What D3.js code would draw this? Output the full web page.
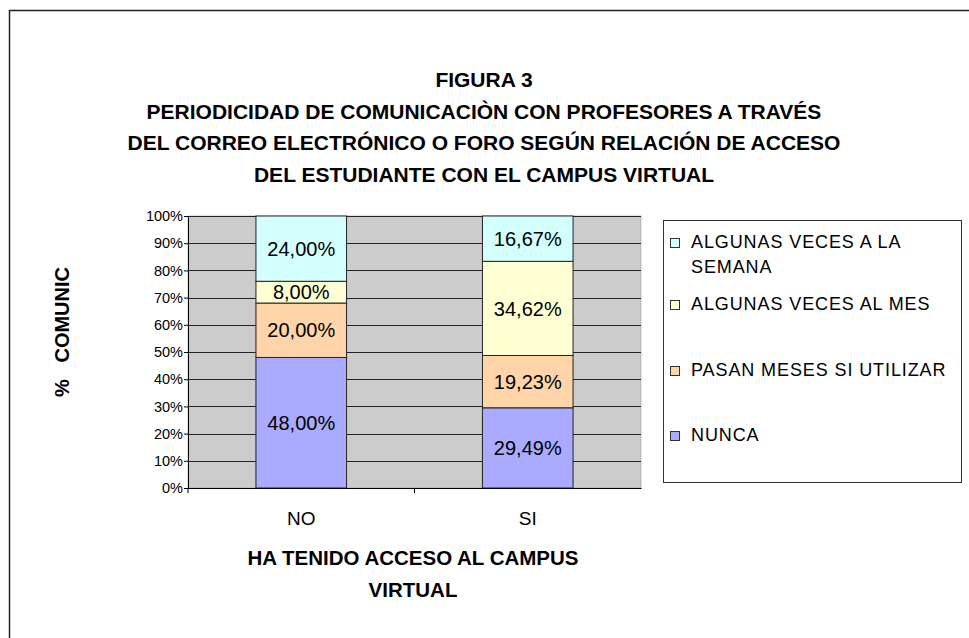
<!DOCTYPE html>
<meta charset="utf-8">
<style>
body { margin: 0; background: #fff; }
text { font-family: "Liberation Sans", Arial, sans-serif; }
</style>
<svg width="969" height="638"></svg>
<script src="https://d3js.org/d3.v7.min.js"></script>
<script>
var categories = ["NO", "SI"];
var seriesNames = ["NUNCA", "PASAN MESES SI UTILIZAR", "ALGUNAS VECES AL MES", "ALGUNAS VECES A LA SEMANA"];
var nunca = [48.00, 29.49];
var pasanMeses = [20.00, 19.23];
var vecesMes = [8.00, 34.62];
var vecesSemana = [24.00, 16.67];
var colors = ["#aaaaff", "#ffd4a8", "#ffffd4", "#d4ffff"];
var yTicks = [0, 10, 20, 30, 40, 50, 60, 70, 80, 90, 100];
var titleLines = ["FIGURA 3",
  "PERIODICIDAD DE COMUNICACIÒN CON PROFESORES A TRAVÉS",
  "DEL CORREO ELECTRÓNICO O FORO SEGÚN RELACIÓN DE ACCESO",
  "DEL ESTUDIANTE CON EL CAMPUS VIRTUAL"];

var svg = d3.select("svg");

// outer chart frame
svg.append("rect")
  .attr("x", 9.5).attr("y", 10.5)
  .attr("width", 1000).attr("height", 700)
  .attr("fill", "none").attr("stroke", "#222").attr("stroke-width", 1.5);

var plot = {left: 188, right: 641, top: 216, bottom: 488};

var x = d3.scaleBand().domain(categories)
  .range([plot.left, plot.right]).paddingInner(0.6).paddingOuter(0.3);
var xGroup = d3.scaleBand().domain(categories).range([plot.left, plot.right]);
var y = d3.scaleLinear().domain([0, 100]).range([plot.bottom, plot.top]);

// plot background
svg.append("rect")
  .attr("x", plot.left).attr("y", plot.top)
  .attr("width", plot.right - plot.left).attr("height", plot.bottom - plot.top)
  .attr("fill", "#cccccc").attr("stroke", "#888").attr("stroke-width", 0.5);

// grid lines
svg.append("g").selectAll("line")
  .data(yTicks.filter(function(d) { return d > 0; }))
  .enter().append("line")
  .attr("x1", plot.left).attr("x2", plot.right)
  .attr("y1", function(d) { return Math.round(y(d)) + 0.5; })
  .attr("y2", function(d) { return Math.round(y(d)) + 0.5; })
  .attr("stroke", "#222").attr("stroke-width", 1);

// stacked data
var rows = categories.map(function(c, i) {
  return {cat: c, s0: nunca[i], s1: pasanMeses[i], s2: vecesMes[i], s3: vecesSemana[i]};
});
var stack = d3.stack().keys(["s0", "s1", "s2", "s3"])(rows);

var layers = svg.append("g").selectAll("g")
  .data(stack).enter().append("g")
  .attr("fill", function(d, i) { return colors[i]; });

layers.selectAll("rect")
  .data(function(d) { return d; })
  .enter().append("rect")
  .attr("x", function(d) { return x(d.data.cat); })
  .attr("width", x.bandwidth())
  .attr("y", function(d) { return y(d[1]); })
  .attr("height", function(d) { return y(d[0]) - y(d[1]); })
  .attr("stroke", "#222").attr("stroke-width", 1);

layers.selectAll("text")
  .data(function(d) { return d; })
  .enter().append("text")
  .attr("x", function(d) { return x(d.data.cat) + x.bandwidth() / 2; })
  .attr("y", function(d) { return (y(d[0]) + y(d[1])) / 2; })
  .attr("dy", "0.36em")
  .attr("text-anchor", "middle")
  .attr("fill", "#000")
  .style("font-size", "20px")
  .text(function(d) { return (d[1] - d[0]).toFixed(2).replace(".", ",") + "%"; });

// y axis
var yAxis = d3.axisLeft(y).tickValues(yTicks).tickSize(4).tickPadding(1)
  .tickFormat(function(d) { return d + "%"; });
var ya = svg.append("g").attr("transform", "translate(" + plot.left + ",0)").call(yAxis);
ya.select(".domain").attr("stroke", "#000");
ya.selectAll("text").style("font-size", "14.5px").attr("fill", "#000");

// x axis
var xAxis = d3.axisBottom(xGroup).tickSize(0).tickPadding(24);
var xa = svg.append("g").attr("transform", "translate(0," + plot.bottom + ")").call(xAxis);
xa.select(".domain").attr("stroke", "#000");
xa.selectAll("text").style("font-size", "19px").attr("fill", "#000");
xa.append("line").attr("x1", plot.left + xGroup.bandwidth()).attr("x2", plot.left + xGroup.bandwidth())
  .attr("y1", 0).attr("y2", 5).attr("stroke", "#000");
xa.append("line").attr("x1", plot.left).attr("x2", plot.left)
  .attr("y1", 0).attr("y2", 5).attr("stroke", "#000");

// titles
svg.append("g").selectAll("text")
  .data(titleLines).enter().append("text")
  .attr("x", 484)
  .attr("y", function(d, i) { return 87 + i * 31.5; })
  .attr("text-anchor", "middle")
  .style("font-size", "21px").style("font-weight", "bold")
  .text(function(d) { return d; });

svg.append("text")
  .attr("transform", "translate(69,332) rotate(-90)")
  .attr("text-anchor", "middle")
  .style("font-size", "20px").style("font-weight", "bold")
  .attr("xml:space", "preserve")
  .text("%   COMUNIC");

svg.append("g").selectAll("text")
  .data(["HA TENIDO ACCESO AL CAMPUS", "VIRTUAL"]).enter().append("text")
  .attr("x", 413)
  .attr("y", function(d, i) { return 565 + i * 32; })
  .attr("text-anchor", "middle")
  .style("font-size", "20.5px").style("font-weight", "bold")
  .text(function(d) { return d; });

// legend
var lg = svg.append("g");
lg.append("rect").attr("x", 663.5).attr("y", 220.5).attr("width", 298).attr("height", 262)
  .attr("fill", "#fff").attr("stroke", "#333");
var legendItems = [
  {name: seriesNames[3], lines: ["ALGUNAS VECES A LA", "SEMANA"], color: colors[3], y: 242},
  {name: seriesNames[2], lines: ["ALGUNAS VECES AL MES"], color: colors[2], y: 304},
  {name: seriesNames[1], lines: ["PASAN MESES SI UTILIZAR"], color: colors[1], y: 370},
  {name: seriesNames[0], lines: ["NUNCA"], color: colors[0], y: 435}
];
var li = lg.selectAll("g.item").data(legendItems).enter().append("g").attr("class", "item");
li.append("rect")
  .attr("x", 670.5).attr("y", function(d) { return d.y - 3.5; })
  .attr("width", 9).attr("height", 9)
  .attr("fill", function(d) { return d.color; }).attr("stroke", "#333");
li.each(function(d) {
  var g = d3.select(this);
  d.lines.forEach(function(t, k) {
    g.append("text").attr("x", 691).attr("y", d.y + k * 25)
      .attr("dy", "0.36em")
      .style("font-size", "18px").style("letter-spacing", "0.9px")
      .text(t);
  });
});
</script>
